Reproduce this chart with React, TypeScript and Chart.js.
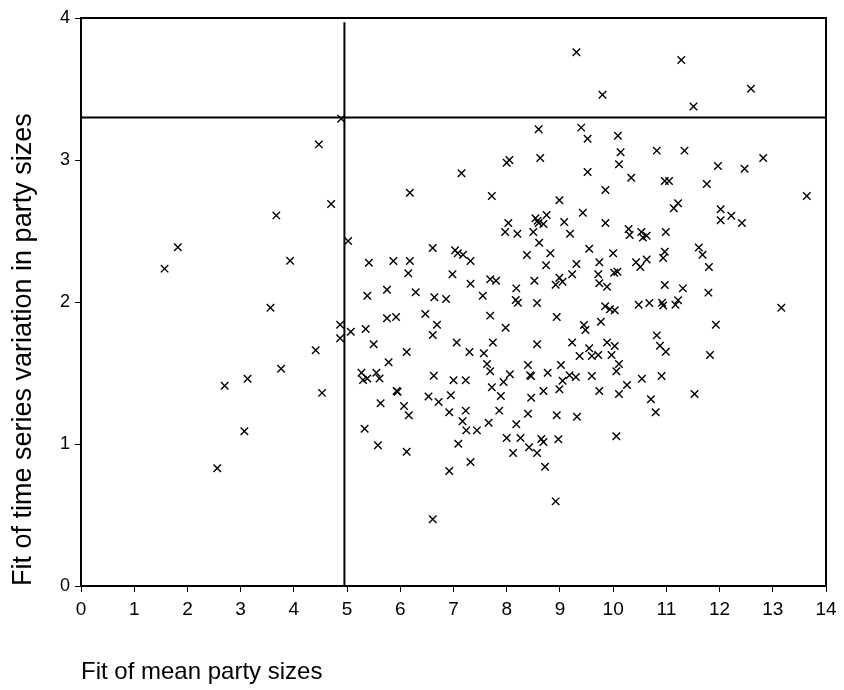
import { useEffect, useRef } from "react";
import { Chart, registerables } from "chart.js";

Chart.register(...registerables);

const X_TITLE = "Fit of mean party sizes";
const Y_TITLE = "Fit of time series variation in party sizes";
const X_MIN = 0;
const X_MAX = 14;
const Y_MIN = 0;
const Y_MAX = 4;
const REF_X = 4.95;
const REF_X_TOP = 3.97;
const REF_Y = 3.3;

// [fit of mean party sizes, fit of time series variation]
const POINTS_LEFT: [number, number][] = [
  [1.57, 2.235], [1.82, 2.385], [2.56, 0.83], [2.7, 1.41], [3.07, 1.09], [3.13, 1.46],
  [3.56, 1.96], [3.67, 2.61], [3.76, 1.53], [3.93, 2.29], [4.41, 1.66], [4.47, 3.11],
  [4.53, 1.36], [4.7, 2.69], [4.87, 1.84], [4.87, 1.745], [4.89, 3.29], [5.02, 2.43],
  [5.07, 1.79],
];

const POINTS_UPPER: [number, number][] = [
  [9.31, 3.758], [8.6, 3.216], [9.4, 3.228], [8.63, 3.014], [8.05, 3.0], [8.0, 2.98],
  [7.15, 2.906], [6.18, 2.77], [7.72, 2.746], [8.99, 2.716], [8.54, 2.589], [8.58, 2.573],
  [8.6, 2.556], [8.69, 2.549], [8.75, 2.613], [8.03, 2.556], [9.08, 2.563], [7.97, 2.493],
  [8.2, 2.481], [8.5, 2.493], [9.19, 2.481], [8.61, 2.418], [6.61, 2.38], [7.03, 2.365],
  [11.28, 3.704], [9.8, 3.46], [12.59, 3.502], [11.51, 3.376], [9.52, 3.15], [10.09, 3.171],
  [10.14, 3.054], [10.82, 3.066], [11.34, 3.066], [10.11, 2.97], [12.82, 3.014], [11.97, 2.958],
  [12.47, 2.939], [9.52, 2.915], [10.34, 2.875], [10.97, 2.852], [11.05, 2.852], [11.76, 2.831],
  [9.855, 2.789], [13.64, 2.746], [11.22, 2.695], [11.14, 2.66], [9.43, 2.629], [12.02, 2.653],
  [12.22, 2.608], [12.02, 2.575], [12.42, 2.556], [9.855, 2.556], [10.29, 2.514], [10.31, 2.472],
  [10.53, 2.493], [10.56, 2.455], [10.63, 2.467], [10.99, 2.493], [9.55, 2.375], [11.61, 2.383],
];

const POINTS_MIDDLE: [number, number][] = [
  [7.08, 2.343], [7.18, 2.333], [7.32, 2.289], [8.38, 2.331], [8.82, 2.343], [5.41, 2.277],
  [5.87, 2.289], [6.18, 2.289], [6.15, 2.202], [8.74, 2.258], [9.31, 2.268], [6.98, 2.195],
  [7.32, 2.129], [7.69, 2.16], [7.8, 2.15], [8.52, 2.15], [8.99, 2.171], [9.05, 2.143],
  [8.92, 2.122], [9.23, 2.195], [8.18, 2.096], [5.38, 2.044], [5.75, 2.087], [6.29, 2.068],
  [6.64, 2.033], [6.86, 2.021], [7.55, 2.044], [8.17, 2.014], [8.21, 1.995], [8.57, 1.993],
  [5.75, 1.885], [5.92, 1.894], [6.47, 1.915], [7.69, 1.904], [8.94, 1.894], [5.35, 1.81],
  [6.69, 1.84], [6.61, 1.768], [7.98, 1.819], [5.5, 1.702], [7.06, 1.714], [7.74, 1.714],
  [8.57, 1.702], [9.23, 1.714], [6.12, 1.648], [7.3, 1.648], [7.57, 1.639], [9.37, 1.62],
  [5.78, 1.575], [7.63, 1.563], [8.4, 1.556], [9.02, 1.556], [5.27, 1.502], [5.55, 1.502],
  [7.69, 1.512], [8.06, 1.491], [8.77, 1.502], [8.44, 1.484], [8.46, 1.478], [9.18, 1.484],
  [9.3, 1.472], [5.3, 1.451], [5.38, 1.462], [5.61, 1.462], [6.63, 1.481], [7.0, 1.449],
  [7.23, 1.449], [7.94, 1.437], [9.05, 1.446], [5.93, 1.373], [5.95, 1.368], [7.72, 1.399],
  [8.69, 1.373], [8.99, 1.385], [6.53, 1.335], [6.95, 1.343], [7.89, 1.338], [8.46, 1.326],
];

const POINTS_RIGHT: [number, number][] = [
  [10.0, 2.343], [10.97, 2.354], [10.94, 2.31], [11.68, 2.333], [11.8, 2.246], [9.74, 2.28],
  [10.43, 2.28], [10.63, 2.3], [10.51, 2.246], [9.72, 2.195], [10.02, 2.206], [10.08, 2.213],
  [9.74, 2.132], [9.885, 2.108], [10.97, 2.12], [11.31, 2.096], [11.79, 2.066], [9.85, 1.97],
  [9.94, 1.949], [10.03, 1.942], [10.48, 1.981], [10.68, 1.993], [10.92, 1.995], [10.94, 1.975],
  [11.17, 1.981], [11.22, 2.012], [13.16, 1.96], [9.45, 1.838], [9.48, 1.803], [9.77, 1.861],
  [11.93, 1.84], [9.885, 1.714], [10.03, 1.69], [9.55, 1.674], [10.82, 1.765], [10.88, 1.692],
  [10.99, 1.65], [9.6, 1.62], [9.72, 1.627], [9.97, 1.627], [11.82, 1.627], [10.11, 1.563],
  [10.06, 1.512], [9.6, 1.479], [10.54, 1.46], [10.91, 1.479], [9.74, 1.373], [10.11, 1.352],
  [10.26, 1.415], [10.71, 1.315], [11.53, 1.352],
];

const POINTS_LOWER: [number, number][] = [
  [5.63, 1.287], [6.07, 1.268], [6.16, 1.202], [5.33, 1.108], [5.58, 0.991], [6.12, 0.946],
  [6.72, 1.296], [6.92, 1.223], [7.23, 1.235], [7.17, 1.16], [7.24, 1.096], [7.44, 1.096],
  [7.09, 1.002], [6.92, 0.81], [7.32, 0.873], [6.61, 0.47], [7.86, 1.235], [7.66, 1.15],
  [8.18, 1.139], [8.4, 1.213], [8.94, 1.202], [9.32, 1.192], [8.0, 1.042], [8.26, 1.042],
  [8.12, 0.937], [8.42, 0.977], [8.57, 0.937], [8.65, 1.035], [8.69, 1.014], [8.97, 1.033],
  [8.72, 0.84], [8.92, 0.596], [10.06, 1.054], [10.8, 1.223],
];

const FONT = "'Liberation Sans', Arial, Helvetica, sans-serif";

export default function App() {
  const ref = useRef<HTMLCanvasElement>(null);

  useEffect(() => {
    if (!ref.current) return;
    const allPoints = [
      ...POINTS_LEFT,
      ...POINTS_UPPER,
      ...POINTS_MIDDLE,
      ...POINTS_RIGHT,
      ...POINTS_LOWER,
    ];
    const boxPlugin = {
      id: "plotBox",
      afterDatasetsDraw(chart: any) {
        const { ctx, chartArea } = chart;
        const { left, top, right, bottom } = chartArea;
        ctx.save();
        ctx.strokeStyle = "#000";
        ctx.lineWidth = 2;
        ctx.strokeRect(left, top, right - left, bottom - top);
        ctx.restore();
      },
    };
    const chart = new Chart(ref.current, {
      type: "scatter",
      data: {
        datasets: [
          {
            data: allPoints.map(([x, y]) => ({ x, y })),
            pointStyle: "crossRot",
            pointRadius: 5.3,
            pointBorderWidth: 1.4,
            borderColor: "#000",
            backgroundColor: "#000",
            showLine: false,
          },
          {
            data: [
              { x: REF_X, y: Y_MIN },
              { x: REF_X, y: REF_X_TOP },
            ],
            showLine: true,
            borderColor: "#000",
            borderWidth: 2,
            pointRadius: 0,
          },
          {
            data: [
              { x: X_MIN, y: REF_Y },
              { x: X_MAX, y: REF_Y },
            ],
            showLine: true,
            borderColor: "#000",
            borderWidth: 2,
            pointRadius: 0,
          },
        ],
      },
      options: {
        responsive: false,
        animation: false,
        layout: { padding: { top: 18, right: 18, left: 0, bottom: 0 } },
        plugins: {
          legend: { display: false },
          tooltip: { enabled: false },
        },
        scales: {
          x: {
            type: "linear",
            min: X_MIN,
            max: X_MAX,
            afterFit: (s: any) => {
              s.height = 104;
            },
            ticks: {
              stepSize: 1,
              color: "#000",
              padding: 6,
              font: { family: FONT, size: 19 },
            },
            grid: {
              drawOnChartArea: false,
              drawTicks: true,
              tickLength: 6,
              color: "#000",
              lineWidth: 1,
            },
            border: { display: true, color: "#000", width: 2 },
            title: {
              display: true,
              text: X_TITLE,
              align: "start",
              color: "#000",
              font: { family: FONT, size: 24 },
              padding: { top: 0, bottom: 3 },
            },
          },
          y: {
            type: "linear",
            min: Y_MIN,
            max: Y_MAX,
            afterFit: (s: any) => {
              s.width = 81;
            },
            ticks: {
              stepSize: 1,
              color: "#000",
              padding: 5,
              font: { family: FONT, size: 18 },
            },
            grid: {
              drawOnChartArea: false,
              drawTicks: true,
              tickLength: 6,
              color: "#000",
              lineWidth: 1,
            },
            border: { display: true, color: "#000", width: 2 },
            title: {
              display: true,
              text: Y_TITLE,
              align: "start",
              color: "#000",
              font: { family: FONT, size: 27 },
              padding: { top: 7, bottom: 0 },
            },
          },
        },
      },
      plugins: [boxPlugin],
    } as any);
    return () => chart.destroy();
  }, []);

  return (
    <div style={{ position: "absolute", left: 0, top: 0, width: 844, height: 690, background: "#fff" }}>
      <canvas ref={ref} width={844} height={690} style={{ display: "block" }} />
    </div>
  );
}
